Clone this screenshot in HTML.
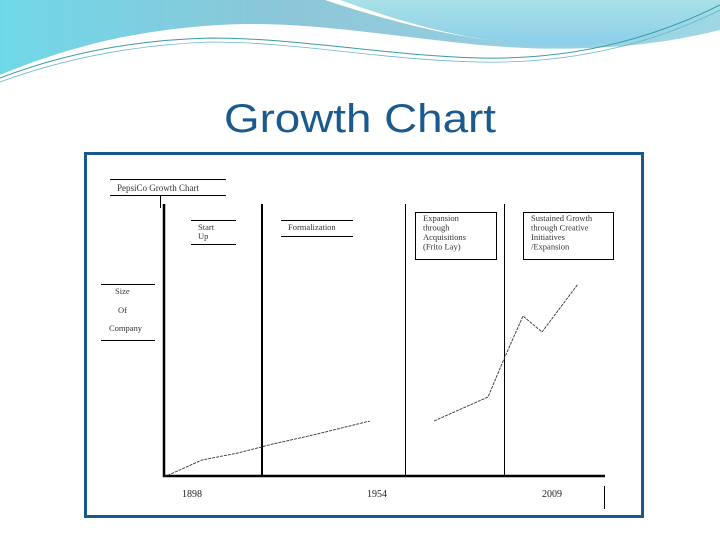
<!DOCTYPE html>
<html><head><meta charset="utf-8"><style>
html,body{margin:0;padding:0;background:#fff;}
svg{display:block;font-family:"Liberation Serif",serif;}
</style></head><body>
<svg width="720" height="540" viewBox="0 0 720 540">
<defs>
<linearGradient id="g1" x1="0" y1="0" x2="1" y2="0"><stop offset="0" stop-color="#6fd8e8"/><stop offset="0.4" stop-color="#8cc6d8"/><stop offset="1" stop-color="#9fd8e4"/></linearGradient>
<linearGradient id="g2" x1="0" y1="0" x2="0" y2="1"><stop offset="0" stop-color="#a8e0e6"/><stop offset="1" stop-color="#8ccfea"/></linearGradient>
</defs>
<g>
<path d="M0,0 H720 V30 C640,50 560,52 480,45 C380,35 300,20 220,25 C130,30 60,50 0,75 Z" fill="url(#g1)"/>
<path d="M325,0 H720 V5 C680,25 640,40 560,45 C480,45 400,25 325,0 Z" fill="#fff"/>
<path d="M340,0 H720 V10 C680,30 640,45 560,46 C480,45 410,25 340,0 Z" fill="url(#g2)"/>
<path d="M0,78 C60,55 130,40 210,38 C300,38 380,55 480,58 C580,60 660,35 720,5" fill="none" stroke="#3a9aa8" stroke-width="1"/>
<path d="M0,82 C60,60 130,45 210,42 C300,42 380,60 480,62 C580,64 660,40 720,10" fill="none" stroke="#6bb8c8" stroke-width="0.8"/>
</g>
<text x="224" y="132" font-family="Liberation Sans, sans-serif" font-size="40" fill="#1a5a8e" textLength="272" lengthAdjust="spacingAndGlyphs">Growth Chart</text>
<rect x="85.5" y="153.5" width="557" height="363" fill="#fff" stroke="#1a5a8a" stroke-width="3"/>
<g stroke="#000">
<line x1="164" y1="204" x2="164" y2="477" stroke-width="2.5"/>
<line x1="163" y1="476" x2="605" y2="476" stroke-width="2.5"/>
<line x1="262" y1="204" x2="262" y2="476" stroke-width="2"/>
<line x1="405.5" y1="204" x2="405.5" y2="476" stroke-width="1"/>
<line x1="504.5" y1="204" x2="504.5" y2="476" stroke-width="1"/>
<line x1="604.5" y1="486" x2="604.5" y2="509" stroke-width="1"/>
</g>
<g font-size="10" fill="#222" id="xticks"></g>
<g stroke="#000" stroke-width="1">
<line x1="110" y1="179.5" x2="226" y2="179.5"/><line x1="110" y1="195.5" x2="226" y2="195.5"/><line x1="160.5" y1="195" x2="160.5" y2="208"/>
</g>
<text x="117" y="191" font-size="9" fill="#333">PepsiCo Growth Chart</text>
<g stroke="#000" stroke-width="1">
<line x1="191" y1="220.5" x2="236" y2="220.5"/><line x1="191" y1="244.5" x2="236" y2="244.5"/>
<line x1="281" y1="220.5" x2="353" y2="220.5"/><line x1="281" y1="236.5" x2="353" y2="236.5"/>
<line x1="101" y1="284.5" x2="155" y2="284.5"/><line x1="101" y1="340.5" x2="155" y2="340.5"/>
</g>
<g font-size="8.5" fill="#333">
<text x="198" y="230"><tspan x="198">Start</tspan><tspan x="198" dy="9">Up</tspan></text>
<text x="288" y="230">Formalization</text>
<text x="115" y="294">Size</text>
<text x="118" y="313">Of</text>
<text x="109" y="331">Company</text>
</g>
<rect x="415.5" y="212.5" width="81" height="47" fill="none" stroke="#000"/>
<text x="423" y="221" font-size="8.5" fill="#333"><tspan x="423">Expansion</tspan><tspan x="423" dy="9.5">through</tspan><tspan x="423" dy="9.5">Acquisitions</tspan><tspan x="423" dy="9.5">(Frito Lay)</tspan></text>
<rect x="523.5" y="212.5" width="90" height="47" fill="none" stroke="#000"/>
<text x="531" y="221" font-size="8.5" fill="#333"><tspan x="531">Sustained Growth</tspan><tspan x="531" dy="9.5">through Creative</tspan><tspan x="531" dy="9.5">Initiatives</tspan><tspan x="531" dy="9.5">/Expansion</tspan></text>
<g id="series"></g>
</svg>
<script>
// x in chart units (px offset from y-axis), size in arbitrary units
const seg1X = [0, 38, 74, 109, 149, 206];
const seg1Size = [0, 17, 24, 33, 42, 56];
const seg2X = [270, 324, 340, 359, 378, 414];
const seg2Size = [56, 80, 118, 161, 145, 193];
const tickLabels = ["1898", "1954", "2009"];
const tickX = [28, 213, 388];
const ns = "http://www.w3.org/2000/svg";
const sx = v => 164 + v;
const sy = v => 477 - v;
const g = document.getElementById('series');
[[seg1X, seg1Size], [seg2X, seg2Size]].forEach((s, i) => {
  const p = document.createElementNS(ns, 'polyline');
  p.setAttribute('points', s[0].map((x, j) => sx(x) + ',' + sy(s[1][j])).join(' '));
  p.setAttribute('fill', 'none');
  p.setAttribute('stroke', '#333');
  p.setAttribute('stroke-width', '0.9');
  p.setAttribute('stroke-dasharray', '3 1');
  
  
  g.appendChild(p);
});
const xt = document.getElementById('xticks');
tickLabels.forEach((t, i) => {
  const e = document.createElementNS(ns, 'text');
  e.setAttribute('x', sx(tickX[i]));
  e.setAttribute('y', 497);
  e.setAttribute('text-anchor', 'middle');
  e.textContent = t;
  
  
  xt.appendChild(e);
});
</script>
</body></html>
